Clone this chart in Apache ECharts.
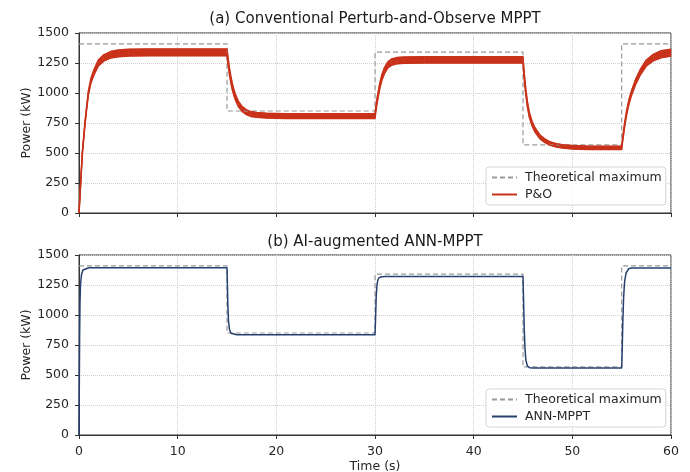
<!DOCTYPE html>
<html><head><meta charset="utf-8">
<script src="https://cdn.jsdelivr.net/npm/echarts@6/dist/echarts.min.js"></script>
<style>html,body{margin:0;padding:0;background:#fff}#c{width:690px;height:472px}</style>
</head><body><div id="c"></div>
<script>
// Theoretical maximum (step, held until next change)
const maxTime  = [0, 15, 30, 45, 55, 60];
const maxPower = [1410, 850, 1340, 567, 1410, 1410];

// P&O oscillation band (upper / lower envelope, kW)
const poTime  = [0,0.1,0.17,0.25,0.34,0.45,0.61,0.78,0.95,1.2,1.5,1.96,2.5,3.2,4,5,7,15,
  15.1,15.25,15.4,15.55,15.7,15.9,16.15,16.5,16.9,17.4,18,19,21,30,
  30.1,30.2,30.35,30.5,30.7,30.95,31.3,31.7,32.2,33,35,45,
  45.1,45.2,45.3,45.45,45.65,45.9,46.2,46.7,47.2,47.7,48.3,49,50,51.5,55,
  55.1,55.2,55.33,55.5,55.75,56,56.4,56.9,57.5,58.2,59,60];
const poUpper = [0,150,254,376,508,609,761,893,1015,1118,1191,1274,1318,1345,1358,1364,1367,1367,
  1296,1207,1134,1075,1027,978,932,891,863,845,838,831,828,828,
  895,951,1021,1087,1153,1209,1260,1284,1295,1300,1302,1302,
  1190,1099,1023,927,835,769,713,652,618,595,579,569,562,558,557,
  626,690,766,852,948,1019,1111,1198,1275,1322,1352,1365];
const poLower = [0,146,246,364,492,591,739,867,985,1082,1149,1226,1266,1291,1302,1308,1311,1311,
  1240,1153,1082,1025,979,932,888,849,823,805,798,791,788,788,
  855,909,979,1043,1107,1161,1210,1232,1243,1248,1250,1250,
  1140,1051,977,883,795,731,677,620,588,567,551,541,534,530,529,
  598,660,734,818,912,981,1069,1152,1225,1268,1294,1308];

// ANN-MPPT output (kW)
const annTime  = [0,0.03,0.06,0.1,0.15,0.25,0.4,0.6,1,15,
  15.03,15.08,15.15,15.25,15.4,15.6,16,30,
  30.05,30.12,30.2,30.3,30.45,30.7,31,45,
  45.05,45.12,45.2,45.3,45.45,45.7,46,55,
  55.05,55.12,55.2,55.3,55.45,55.7,56,60];
const annPower = [0,400,800,1100,1250,1335,1375,1390,1394,1394,
  1300,1100,950,880,848,838,835,835,
  950,1150,1250,1295,1313,1319,1320,1320,
  1150,900,720,620,575,560,558,558,
  700,950,1150,1280,1350,1385,1391,1392];

const xTicks = {min: 0, max: 60, interval: 10};
const yTicks = {min: 0, max: 1500, interval: 250};

const FONT = 'DejaVu Sans';
const RED = '#c9321a', NAVY = '#25406e', GRAY = '#999999', AX = '#333333';

const pairs = (xs, ys) => xs.map((x, i) => [x, ys[i]]);
// band segments built from the envelope arrays
const bandSegs = poTime.slice(0, -1).map((t, i) =>
  [t, poUpper[i], poLower[i], poTime[i + 1], poUpper[i + 1], poLower[i + 1]]);

function xAxis(grid, labels) {
  return {
    type: 'value', gridIndex: grid, min: xTicks.min, max: xTicks.max, interval: xTicks.interval,
    axisLine: {show: true, lineStyle: {color: AX, width: 1}},
    axisTick: {show: true, inside: false, length: 4, lineStyle: {color: AX}},
    axisLabel: {show: labels, margin: 10, fontSize: 12.5, color: '#262626', fontFamily: FONT},
    splitLine: {show: true, lineStyle: {type: 'dotted', color: '#cfcfcf', width: 1}},
    name: labels ? 'Time (s)' : '', nameLocation: 'middle', nameGap: 25,
    nameTextStyle: {fontSize: 12.5, color: '#262626', fontFamily: FONT}
  };
}
function yAxis(grid) {
  return {
    type: 'value', gridIndex: grid, min: yTicks.min, max: yTicks.max, interval: yTicks.interval,
    axisLine: {show: true, lineStyle: {color: AX, width: 1}},
    axisTick: {show: true, inside: false, length: 4, lineStyle: {color: AX}},
    axisLabel: {margin: 10, fontSize: 12.5, color: '#262626', fontFamily: FONT, formatter: v => String(v)},
    splitLine: {show: true, lineStyle: {type: 'dotted', color: '#cfcfcf', width: 1}},
    name: 'Power (kW)', nameLocation: 'middle', nameGap: 46, nameMoveOverlap: false,
    nameTextStyle: {fontSize: 12.5, color: '#262626', fontFamily: FONT}
  };
}
function legend(top, names) {
  return {
    data: names, orient: 'vertical', left: 486, top: top,
    backgroundColor: 'rgba(255,255,255,0.85)', borderColor: '#d5d5d5', borderWidth: 1, borderRadius: 3,
    padding: [4, 4, 4, 5], itemWidth: 25, itemHeight: 14, itemGap: 4,
    itemStyle: {opacity: 0},
    textStyle: {fontSize: 12.5, color: '#262626', fontFamily: FONT, padding: [0, 0, 0, 3]}
  };
}
const theo = (i) => ({
  name: 'Theoretical maximum', type: 'line', xAxisIndex: i, yAxisIndex: i,
  data: pairs(maxTime, maxPower), step: 'end', symbol: 'none',
  lineStyle: {color: GRAY, width: 1.2, type: [5, 3]}, itemStyle: {color: GRAY}
});

const chart = echarts.init(document.getElementById('c'), null, {renderer: 'canvas'});
chart.setOption({
  animation: false,
  backgroundColor: '#fff',
  grid: [
    {left: 79, top: 33, width: 592, height: 180, show: true, borderColor: AX, borderWidth: 1, outerBoundsMode: 'none'},
    {left: 79, top: 255, width: 592, height: 180, show: true, borderColor: AX, borderWidth: 1, outerBoundsMode: 'none'}
  ],
  graphic: [
    {type: 'text', x: 375, y: 19, style: {text: '(a) Conventional Perturb-and-Observe MPPT', font: '15px "DejaVu Sans"', fill: '#1a1a1a', textAlign: 'center', textVerticalAlign: 'middle'}},
    {type: 'text', x: 375, y: 242, style: {text: '(b) AI-augmented ANN-MPPT', font: '15px "DejaVu Sans"', fill: '#1a1a1a', textAlign: 'center', textVerticalAlign: 'middle'}}
  ],
  xAxis: [xAxis(0, false), xAxis(1, true)],
  yAxis: [yAxis(0), yAxis(1)],
  legend: [legend(167, ['Theoretical maximum', 'P&O']), legend(389, ['Theoretical maximum', 'ANN-MPPT'])],
  series: [
    theo(0),
    {name: 'P&O band', type: 'custom', xAxisIndex: 0, yAxisIndex: 0, data: bandSegs,
      encode: {x: [0, 3], y: [1, 2, 4, 5]},
      renderItem: (params, api) => {
        const a = api.coord([api.value(0), api.value(1)]);
        const b = api.coord([api.value(3), api.value(4)]);
        const c = api.coord([api.value(3), api.value(5)]);
        const d = api.coord([api.value(0), api.value(2)]);
        return {type: 'polygon', shape: {points: [a, b, c, d]}, style: {fill: RED, stroke: RED, lineWidth: 0.6}};
      }},
    {name: 'P&O', type: 'line', xAxisIndex: 0, yAxisIndex: 0, symbol: 'none',
      data: pairs(poTime, poUpper), lineStyle: {color: RED, width: 1.5}, itemStyle: {color: RED}},
    {name: 'P&O', type: 'line', xAxisIndex: 0, yAxisIndex: 0, symbol: 'none',
      data: pairs(poTime, poLower), lineStyle: {color: RED, width: 1.5}, itemStyle: {color: RED}},
    theo(1),
    {name: 'ANN-MPPT', type: 'line', xAxisIndex: 1, yAxisIndex: 1, symbol: 'none',
      data: pairs(annTime, annPower), lineStyle: {color: NAVY, width: 1.5}, itemStyle: {color: NAVY}}
  ]
});
</script></body></html>
